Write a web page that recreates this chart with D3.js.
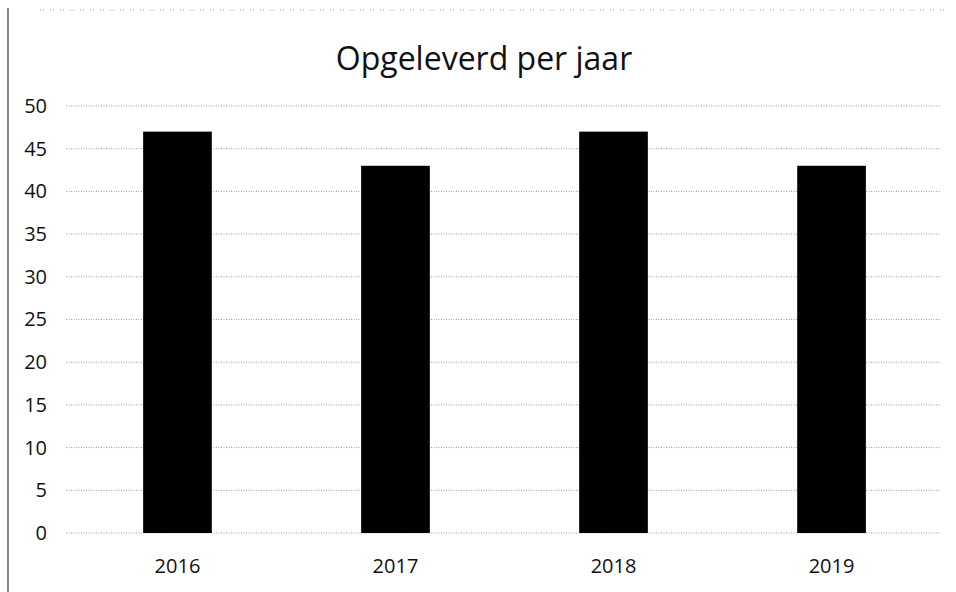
<!DOCTYPE html>
<html>
<head>
<meta charset="utf-8">
<script src="https://cdn.jsdelivr.net/npm/d3@7"></script>
<style>
  body { margin: 0; background: #fff; }
  text { font-family: "Open Sans", "Noto Sans", sans-serif; fill: #111; }
</style>
</head>
<body>
<div id="chart"></div>
<script>
var years = ["2016", "2017", "2018", "2019"]
var values = [47, 43, 47, 43]
var yTicks = [0, 5, 10, 15, 20, 25, 30, 35, 40, 45, 50]

var W = 956, H = 592
var margin = {top: 106, right: 16, bottom: 59, left: 66}
var width = W - margin.left - margin.right
var height = H - margin.top - margin.bottom

var svg = d3.select("#chart").append("svg")
  .attr("width", W)
  .attr("height", H)

// scan frame: left border and dotted top edge
svg.append("line")
  .attr("x1", 8).attr("x2", 8).attr("y1", 8).attr("y2", H)
  .attr("stroke", "#333").attr("stroke-width", 1.2)
svg.append("line")
  .attr("x1", 40).attr("x2", 950).attr("y1", 10).attr("y2", 10)
  .attr("stroke", "#999").attr("stroke-width", 1)
  .attr("stroke-dasharray", "1,2,1,6")

svg.append("text")
  .attr("x", 484).attr("y", 70)
  .attr("text-anchor", "middle")
  .style("font-size", "32px")
  .text("Opgeleverd per jaar")

var g = svg.append("g")
  .attr("transform", "translate(" + margin.left + "," + margin.top + ")")

var x = d3.scaleBand()
  .domain(years)
  .range([3, width])
  .paddingInner(0.685)
  .paddingOuter(0.34)

var y = d3.scaleLinear()
  .domain([0, 50])
  .range([height, 0])

// gridlines
g.selectAll(".grid").data(yTicks).enter().append("line")
  .attr("class", "grid")
  .attr("x1", 0).attr("x2", width)
  .attr("y1", d => y(d)).attr("y2", d => y(d))
  .attr("stroke", "#9a9a9a")
  .attr("stroke-width", 1)
  .attr("stroke-dasharray", "1,1.5")

// y axis labels
var yAxis = d3.axisLeft(y).tickValues(yTicks).tickSize(0).tickPadding(19)
g.append("g").call(yAxis)
  .call(s => s.select(".domain").remove())
  .selectAll("text")
    .style("font-size", "20px")
    .attr("fill", "#111")

// bars
g.selectAll(".bar").data(values).enter().append("rect")
  .attr("class", "bar")
  .attr("x", (d, i) => x(years[i]))
  .attr("y", d => y(d))
  .attr("width", x.bandwidth())
  .attr("height", d => height - y(d))
  .attr("fill", "#000")

// x axis labels
var xAxis = d3.axisBottom(x).tickSize(0).tickPadding(26)
g.append("g")
  .attr("transform", "translate(0," + height + ")")
  .call(xAxis)
  .call(s => s.select(".domain").remove())
  .selectAll("text")
    .style("font-size", "20px")
    .attr("fill", "#111")
</script>
</body>
</html>
